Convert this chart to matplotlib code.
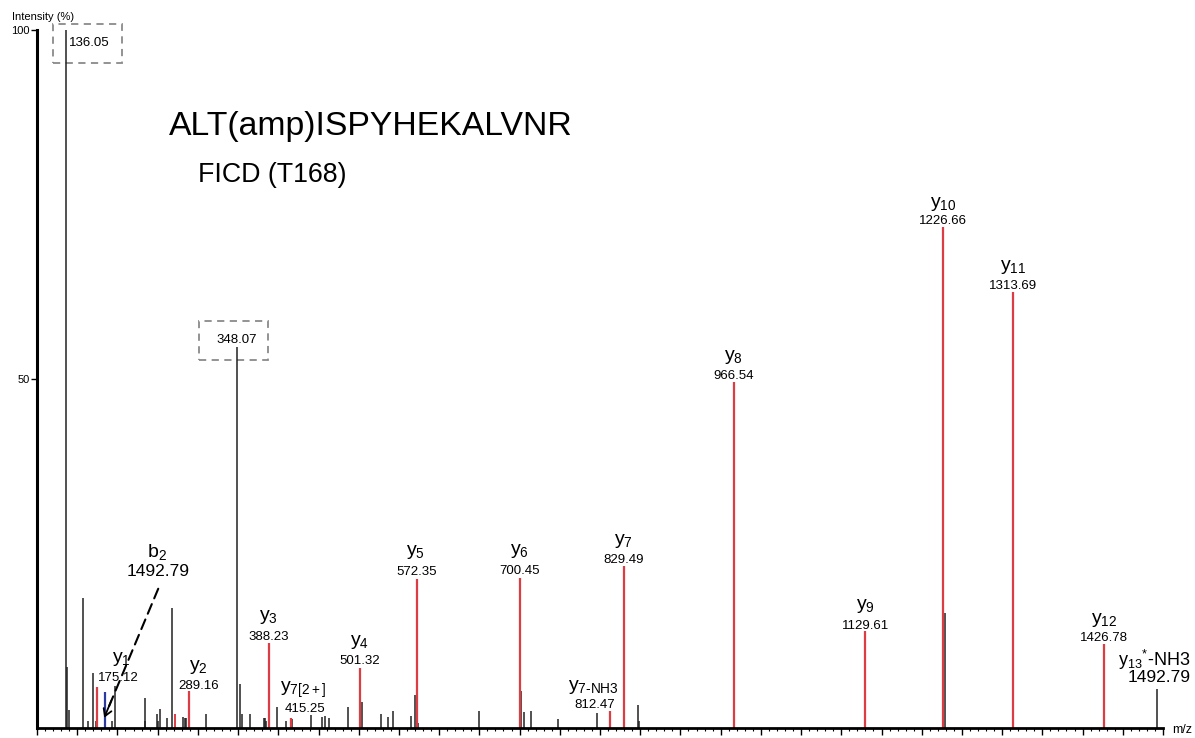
import numpy as np
import matplotlib
matplotlib.use('Agg')
import matplotlib.pyplot as plt
from matplotlib.patches import Rectangle
from matplotlib.ticker import MultipleLocator, FixedLocator

plt.rcParams['font.family'] = ['Liberation Sans', 'DejaVu Sans']
plt.rcParams['mathtext.fontset'] = 'custom'
plt.rcParams['mathtext.rm'] = 'Liberation Sans'
plt.rcParams['mathtext.it'] = 'Liberation Sans'

# Unassigned peaks (m/z, relative intensity %)
other_mz  = [137.1, 140.4, 157.3, 164.0, 169.3, 173.0, 193.8, 197.5, 233.9, 234.8,
             248.8, 250.1, 252.9, 262.1, 267.5, 282.0, 284.0, 285.2, 309.7, 352.8,
             355.3, 364.7, 381.7, 383.4, 385.1, 397.9, 409.1, 417.4, 440.1, 453.8,
             457.9, 462.9, 486.5, 504.3, 527.7, 537.0, 542.4, 565.6, 569.7, 573.5,
             649.4, 701.9, 705.6, 714.3, 747.3, 796.7, 847.6, 848.4, 1229.0]
other_int = [8.7, 2.5, 18.5, 0.9, 7.8, 1.0, 1.0, 6.0, 4.3, 1.0,
             2.0, 0.9, 2.6, 1.3, 17.1, 1.5, 1.4, 1.3, 1.9, 6.3,
             1.9, 1.9, 1.4, 1.3, 1.0, 3.0, 0.9, 1.2, 1.8, 1.5,
             1.7, 1.4, 3.0, 3.7, 2.0, 1.5, 2.3, 1.6, 4.7, 0.7,
             2.3, 5.3, 2.2, 2.3, 1.2, 2.1, 3.2, 1.0, 16.4]

# Boxed reporter peaks
boxed_mz  = [136.05, 348.07]
boxed_int = [100.0, 54.6]

# Assigned y ions (red)
ion_labels = [r'$\mathregular{y_1}$', r'$\mathregular{y_2}$', r'$\mathregular{y_3}$',
              r'$\mathregular{y_{7[2+]}}$', r'$\mathregular{y_4}$', r'$\mathregular{y_5}$',
              r'$\mathregular{y_6}$', r'$\mathregular{y_{7\text{-}NH3}}$', r'$\mathregular{y_7}$',
              r'$\mathregular{y_8}$', r'$\mathregular{y_9}$', r'$\mathregular{y_{10}}$',
              r'$\mathregular{y_{11}}$', r'$\mathregular{y_{12}}$']
ion_mz  = [175.12, 289.16, 388.23, 415.25, 501.32, 572.35, 700.45, 812.47, 829.49,
           966.54, 1129.61, 1226.66, 1313.69, 1426.78]
ion_int = [5.8, 5.2, 12.1, 1.4, 8.5, 21.3, 21.5, 2.3, 23.1, 49.6, 13.8, 71.7, 62.4, 11.9]
ion_text = ['175.12', '289.16', '388.23', '415.25', '501.32', '572.35', '700.45', '812.47',
            '829.49', '966.54', '1129.61', '1226.66', '1313.69', '1426.78']

# small unlabelled red peak
minor_red_mz  = [271.0]
minor_red_int = [1.9]

# b2 (blue) and y13*-NH3
b2_mz, b2_int = 184.6, 5.1
y13_mz, y13_int = 1492.79, 5.5

# label offsets in pixels: (dx value, dy value, dx ion, dy ion)
ion_offsets = [(21, 8.7, 24, 27.7), (9, 5.7, 9, 24.7), (0, 6.3, 0, 26.3), (14, 9, 13, 28),
               (0, 7, 0, 26), (0, 7, -1, 27), (0, 6.7, 0, 26.7), (-15, 6.3, -17, 24),
               (0, 6, 0, 25), (0, 6, 0, 24.3), (0, 5.7, 0, 25), (0, 6, 0, 23.7),
               (0, 6.7, 0, 25.7), (0, 6, 0, 24.3)]

RED = '#dc3c44'
DARK = '#222222'
PT = 0.72  # points per pixel at dpi 100

fig = plt.figure(figsize=(11.95, 7.38), dpi=100)
ax = fig.add_axes([37 / 1195, 10.5 / 738, 1126 / 1195, 697.5 / 738])
ax.set_xlim(100, 1500)
ax.set_ylim(0, 100)
MZ_PER_PX = 1400 / 1126
INT_PER_PX = 100 / 697.5

ax.vlines(other_mz, 0, other_int, colors=DARK, lw=1.1)
ax.vlines(boxed_mz, 0, boxed_int, colors=DARK, lw=1.1)
ax.vlines(minor_red_mz, 0, minor_red_int, colors=RED, lw=1.4)
ax.vlines(ion_mz, 0, ion_int, colors=RED, lw=1.6)
ax.vlines([b2_mz], 0, [b2_int], colors='#2b3a9e', lw=1.6)
ax.vlines([y13_mz], 0, [y13_int], colors=DARK, lw=1.1)

for lab, mz, inten, txt, (dxv, dyv, dxi, dyi) in zip(ion_labels, ion_mz, ion_int, ion_text, ion_offsets):
    ax.annotate(txt, (mz, inten), xytext=(dxv * PT, dyv * PT), textcoords='offset points',
                ha='center', va='center', fontsize=9.5)
    ax.annotate(lab, (mz, inten), xytext=(dxi * PT, dyi * PT), textcoords='offset points',
                ha='center', va='center', fontsize=14)

# y13*-NH3
ax.annotate('1492.79', (y13_mz, y13_int), xytext=(2 * PT, 11.3 * PT), textcoords='offset points',
            ha='center', va='center', fontsize=12.5, annotation_clip=False)
ax.annotate(r'$\mathregular{y_{13}{}^{*}}$-NH3', (y13_mz, y13_int), xytext=(-3 * PT, 29.5 * PT),
            textcoords='offset points', ha='center', va='center', fontsize=13,
            annotation_clip=False)

# b2 label with dashed pointer
ax.annotate('1492.79', (b2_mz, b2_int), xytext=(53 * PT, 120.7 * PT), textcoords='offset points',
            ha='center', va='center', fontsize=12.5)
ax.annotate(r'$\mathregular{b_2}$', (b2_mz, b2_int), xytext=(52 * PT, 139.7 * PT),
            textcoords='offset points', ha='center', va='center', fontsize=14)
tip = (b2_mz - 1, 1.4)
ax.annotate('', tip, xytext=(54 * PT, 129 * PT), textcoords='offset points',
            arrowprops=dict(arrowstyle='-', color='black', lw=1.5, ls=(0, (5, 3)),
                            shrinkA=0, shrinkB=8))
ax.annotate('', tip, xytext=(7 * PT, 17 * PT), textcoords='offset points',
            arrowprops=dict(arrowstyle='->,head_length=0.5,head_width=0.3', color='black',
                            lw=1.3, shrinkA=0, shrinkB=0))

# dashed boxes round reporter peaks
box_px = [(13, 56, 6, 33), (38, 31, 25.7, 13.3)]
for mz, inten, (l, r, t, b) in zip(boxed_mz, boxed_int, box_px):
    ax.add_patch(Rectangle((mz - l * MZ_PER_PX, inten - b * INT_PER_PX),
                           (l + r) * MZ_PER_PX, (t + b) * INT_PER_PX, fill=False,
                           ec='#8a8a8a', lw=1.3, ls=(0, (4, 3)), clip_on=False))
ax.annotate('136.05', (boxed_mz[0], boxed_int[0]), xytext=(3 * PT, -13 * PT),
            textcoords='offset points', ha='left', va='center', fontsize=9.5,
            annotation_clip=False)
ax.annotate('348.07', (boxed_mz[1], boxed_int[1]), xytext=(0.5 * PT, 6.7 * PT),
            textcoords='offset points', ha='center', va='center', fontsize=9.5)

# axes styling
for s in ['top', 'right']:
    ax.spines[s].set_visible(False)
ax.spines['left'].set_linewidth(2.2)
ax.spines['bottom'].set_linewidth(2.0)
ax.set_yticks([50, 100])
ax.set_yticklabels(['50', '100'], fontsize=8)
ax.tick_params(axis='y', length=4, width=1, pad=1)

major = np.arange(100, 1501, 50)
ax.xaxis.set_major_locator(FixedLocator(major))
ax.set_xticklabels([str(v) if (v % 100 == 0 and 100 < v < 1500) else '' for v in major],
                   fontsize=9)
ax.xaxis.set_minor_locator(MultipleLocator(10))
ax.tick_params(axis='x', which='major', length=5, width=1, pad=2.5)
ax.tick_params(axis='x', which='minor', length=2.5, width=0.8)

fig.text(12 / 1195, 1 - 17 / 738, 'Intensity (%)', fontsize=8, va='center')
fig.text(1172 / 1195, 1 - 730 / 738, 'm/z', fontsize=9, va='center')
fig.text(169 / 1195, 1 - 127 / 738, 'ALT(amp)ISPYHEKALVNR', fontsize=24.3, va='center')
fig.text(198 / 1195, 1 - 175 / 738, 'FICD (T168)', fontsize=19.3, va='center')

fig.savefig('out.png', dpi=100)
